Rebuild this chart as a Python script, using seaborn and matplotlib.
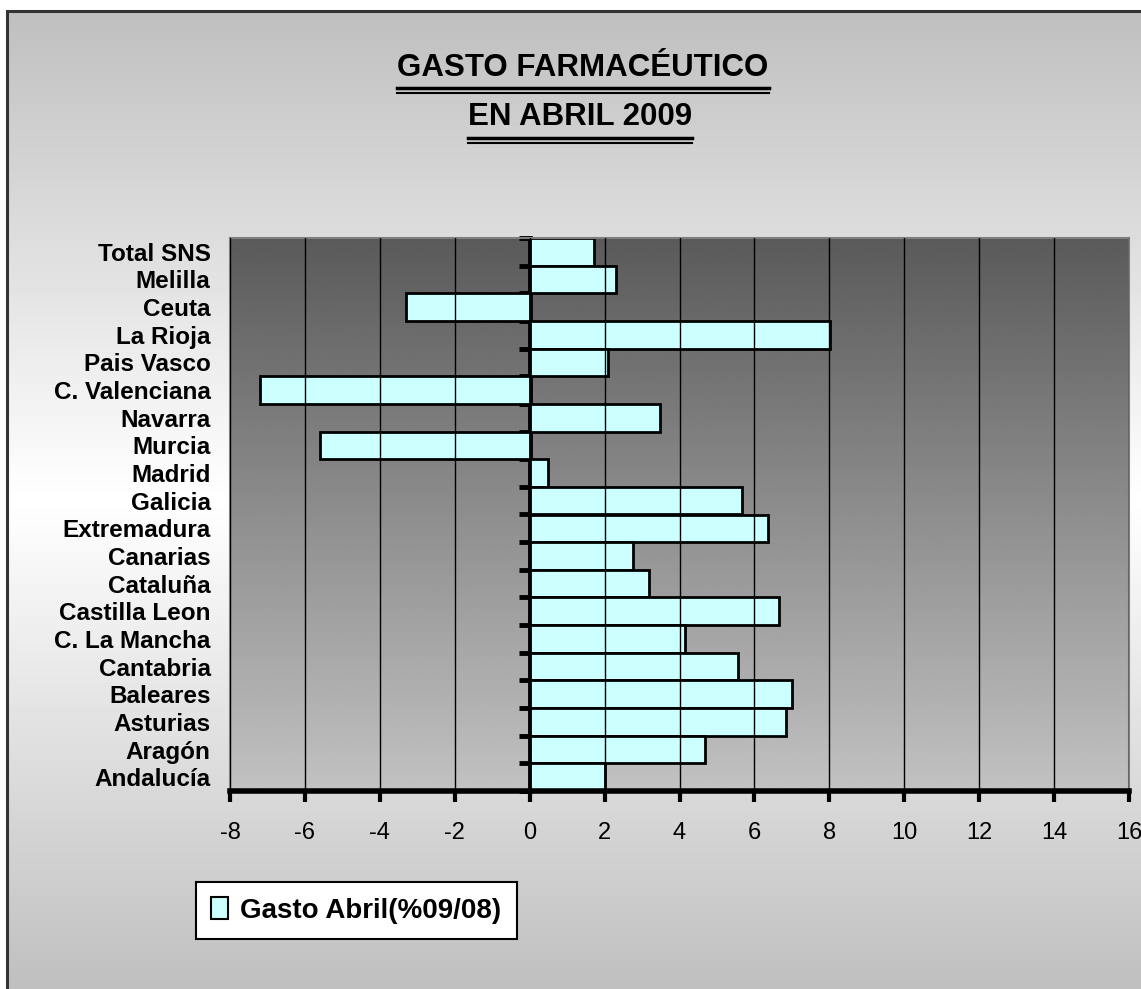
import numpy as np
import matplotlib
matplotlib.use("Agg")
import matplotlib.pyplot as plt
from matplotlib.patches import Patch, Rectangle
from matplotlib.lines import Line2D
import seaborn as sns

# regions, top to bottom as shown in the chart
regiones = ["Total SNS", "Melilla", "Ceuta", "La Rioja", "Pais Vasco",
            "C. Valenciana", "Navarra", "Murcia", "Madrid", "Galicia",
            "Extremadura", "Canarias", "Cataluña", "Castilla Leon",
            "C. La Mancha", "Cantabria", "Baleares", "Asturias", "Aragón",
            "Andalucía"]
gasto = [1.71, 2.31, -3.29, 8.03, 2.09,
         -7.2, 3.49, -5.59, 0.49, 5.67,
         6.35, 2.76, 3.18, 6.66,
         4.14, 5.55, 7.0, 6.84, 4.69,
         2.0]
xticks = list(range(-8, 17, 2))
serie = "Gasto Abril(%09/08)"
titulo1 = "GASTO FARMACÉUTICO"
titulo2 = "EN ABRIL 2009"

W, H = 1141, 989
fam = ["Liberation Sans Narrow", "Liberation Sans", "DejaVu Sans"]
plt.rcParams["font.family"] = fam

fig = plt.figure(figsize=(W / 100, H / 100), dpi=100)

# outer background with vertical gray-white-gray gradient
bg = fig.add_axes([0, 0, 1, 1], zorder=-10)
bg.set_xlim(0, 1)
bg.set_ylim(0, 1)
g = np.concatenate([np.linspace(0.75, 1.0, 128), np.linspace(1.0, 0.75, 128)])
bg.imshow(g[:, None], cmap="gray", vmin=0, vmax=1, aspect="auto",
          extent=[7 / W, 1, 0, 1 - 11 / H], zorder=0)
bg.add_patch(Rectangle((7 / W, -0.01), 1.0, 1 - 11 / H + 0.01, fill=False,
                       edgecolor="#333333", lw=2.2, zorder=2))
bg.axis("off")

ax = fig.add_axes([230 / W, 1 - 791 / H, (1129 - 230) / W, (791 - 238) / H])
ax.patch.set_visible(False)

sns.barplot(x=gasto, y=regiones, order=regiones, orient="h", ax=ax,
            color="#ccffff", saturation=1, width=1.0,
            edgecolor="black", linewidth=2, zorder=2)

# plot area gradient, dark at the top
ga = np.linspace(0.353, 0.76, 256)
ax.imshow(ga[:, None], cmap="gray", vmin=0, vmax=1, aspect="auto",
          extent=[-8, 16, len(regiones) - 0.5, -0.5], zorder=0)
ax.set_xlim(-8, 16)
ax.set_ylim(len(regiones) - 0.5, -0.5)

ax.set_xticks(xticks)
ax.set_xticklabels([str(t) for t in xticks])
ax.grid(axis="x", color="black", lw=1, zorder=1)
ax.set_axisbelow(False)
for l in ax.get_xgridlines():
    l.set_zorder(1)
ax.set_xlabel("")
ax.set_ylabel("")

for s in ["top", "left", "right"]:
    ax.spines[s].set_color("#7f7f7f")
    ax.spines[s].set_linewidth(1.5)
ax.spines["bottom"].set_linewidth(4)
ax.spines["bottom"].set_color("black")

ax.tick_params(axis="x", direction="out", length=8, width=3, pad=14,
               labelsize=17)
ax.tick_params(axis="y", length=0, pad=14, labelsize=17.5)
for t in ax.get_yticklabels():
    t.set_fontweight("bold")

# vertical axis at zero with ticks between categories
sec = ax.secondary_yaxis(8 / 24)
sec.set_yticks(np.arange(-0.5, len(regiones), 1.0))
sec.set_yticklabels([])
sec.tick_params(direction="out", length=8, width=3.5)
sec.spines["left"].set_linewidth(3.5)

# title with double underline
t1 = fig.text(0.511, 1 - 68 / H, titulo1, ha="center", va="center",
              fontsize=22.5, fontweight="bold")
t2 = fig.text(0.508, 1 - 117 / H, titulo2, ha="center", va="center",
              fontsize=22.5, fontweight="bold")
fig.canvas.draw()
r = fig.canvas.get_renderer()
for t, yl in [(t1, 88), (t2, 138)]:
    bb = t.get_window_extent(r)
    x0, x1 = bb.x0 / W, bb.x1 / W
    fig.add_artist(Line2D([x0, x1], [1 - yl / H] * 2, color="black", lw=2.5))
    fig.add_artist(Line2D([x0, x1], [1 - (yl + 5) / H] * 2, color="black", lw=1.5))

leg = fig.legend(handles=[Patch(facecolor="#ccffff", edgecolor="black", lw=1.5,
                                label=serie)],
                 loc="upper left", bbox_to_anchor=(196 / W, 1 - 882 / H),
                 bbox_transform=fig.transFigure, frameon=True, fancybox=False,
                 framealpha=1, edgecolor="black", handlelength=0.6,
                 handleheight=0.85, handletextpad=0.45, borderpad=0.55,
                 borderaxespad=0,
                 prop={"size": 20, "weight": "bold", "family": fam})
leg.get_frame().set_linewidth(1.5)

fig.savefig("out.png", dpi=100)
